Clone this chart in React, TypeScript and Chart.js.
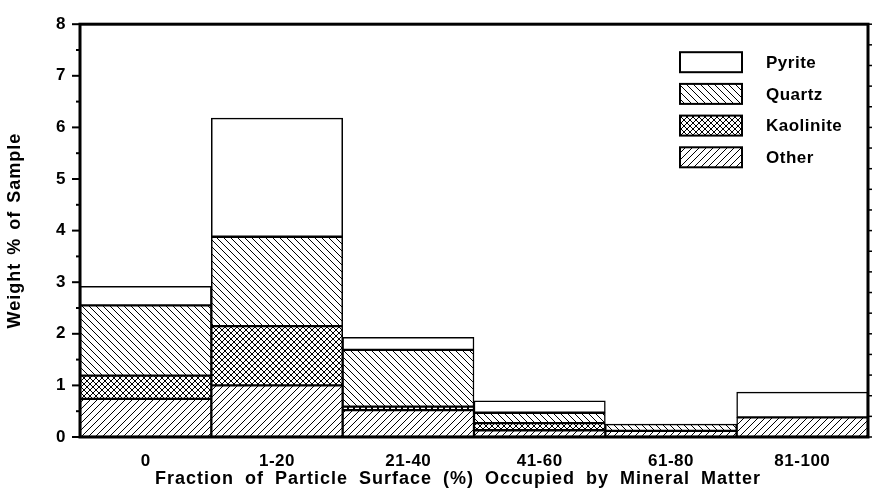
import { useEffect, useRef } from "react";
import { Chart, registerables } from "chart.js";

Chart.register(...registerables);

// Surface-coverage classes (% of particle surface occupied by mineral matter)
const categories = ["0", "1-20", "21-40", "41-60", "61-80", "81-100"];

// Weight % of sample per mineral, stacked bottom to top
const other = [0.74, 1.0, 0.52, 0.13, 0.12, 0.38];
const kaolinite = [0.45, 1.15, 0.07, 0.14, 0, 0];
const quartz = [1.36, 1.73, 1.1, 0.2, 0.13, 0];
const pyrite = [0.37, 2.3, 0.24, 0.23, 0, 0.49];

const yMin = 0;
const yMax = 8;
const yStep = 1;
const yMinorStep = 0.5;
const rightTickStep = 0.4;

const FONT = '"Liberation Sans", Arial, Helvetica, sans-serif';

type Kind = "none" | "fwd" | "back" | "cross";

function hatch(kind: Kind, p: number): CanvasPattern | string {
  if (kind === "none") return "#ffffff";
  const c = document.createElement("canvas");
  c.width = p;
  c.height = p;
  const g = c.getContext("2d")!;
  g.fillStyle = "#ffffff";
  g.fillRect(0, 0, p, p);
  g.strokeStyle = "#000000";
  g.lineWidth = 1;
  g.beginPath();
  for (const k of [-1, 0, 1]) {
    if (kind === "fwd" || kind === "cross") {
      g.moveTo(k * p - 1, p + 1);
      g.lineTo(k * p + p + 1, -1);
    }
    if (kind === "back" || kind === "cross") {
      g.moveTo(k * p - 1, -1);
      g.lineTo(k * p + p + 1, p + 1);
    }
  }
  g.stroke();
  return g.createPattern(c, "repeat")!;
}

const decor = {
  id: "decor",
  beforeDraw(chart: any) {
    chart.ctx.letterSpacing = "0.5px";
  },
  afterDraw(chart: any) {
    const { ctx, chartArea: a, scales } = chart;
    const y = scales.y;
    ctx.save();
    ctx.strokeStyle = "#000";
    ctx.fillStyle = "#000";

    // plot frame
    ctx.lineWidth = 3;
    ctx.strokeRect(a.left, a.top, a.right - a.left, a.bottom - a.top);

    const seg = (x1: number, y1: number, x2: number, y2: number) => {
      ctx.beginPath();
      ctx.moveTo(x1, y1);
      ctx.lineTo(x2, y2);
      ctx.stroke();
    };

    // left axis: major + minor ticks, outward
    ctx.lineWidth = 2;
    for (let v = yMin; v <= yMax + 1e-9; v += yMinorStep) {
      const py = y.getPixelForValue(v);
      const major = Math.abs(v / yStep - Math.round(v / yStep)) < 1e-6;
      seg(a.left - (major ? 8 : 4), py, a.left, py);
    }
    // right axis ticks
    ctx.lineWidth = 1.5;
    for (let v = yMin; v <= yMax + 1e-9; v += rightTickStep) {
      const py = y.getPixelForValue(v);
      seg(a.right, py, a.right + 4, py);
    }

    // legend (top item = top of stack)
    const ds = [...chart.data.datasets].reverse();
    const lx = a.right - 188;
    const ly = a.top + 28;
    ctx.font = `bold 17px ${FONT}`;
    ctx.letterSpacing = "0.5px";
    ctx.textBaseline = "middle";
    ctx.textAlign = "left";
    ds.forEach((d: any, i: number) => {
      const top = ly + i * 31.7;
      ctx.fillStyle = d.backgroundColor;
      ctx.fillRect(lx, top, 62, 20);
      ctx.lineWidth = 2;
      ctx.strokeRect(lx, top, 62, 20);
      ctx.fillStyle = "#000";
      ctx.fillText(d.label, lx + 86, top + 11);
    });

    // axis titles
    ctx.font = `bold 18px ${FONT}`;
    ctx.letterSpacing = "1px";
    (ctx as any).wordSpacing = "5px";
    ctx.textAlign = "center";
    ctx.textBaseline = "middle";
    ctx.fillText(
      "Fraction of Particle Surface (%) Occupied by Mineral Matter",
      (a.left + a.right) / 2 - 16,
      479
    );
    (ctx as any).wordSpacing = "2px";
    ctx.save();
    ctx.translate(15, (a.top + a.bottom) / 2);
    ctx.rotate(-Math.PI / 2);
    ctx.fillText("Weight % of Sample", 0, 0);
    ctx.restore();

    ctx.restore();
  },
};

export default function App() {
  const ref = useRef<HTMLCanvasElement>(null);

  useEffect(() => {
    document.body.style.margin = "0";
    const mk = (label: string, data: number[], kind: Kind, p: number) => ({
      label,
      data,
      backgroundColor: hatch(kind, p),
      borderColor: "#000",
      borderWidth: 1.5,
      borderSkipped: false as const,
      barPercentage: 1,
      categoryPercentage: 1,
    });

    const chart = new Chart(ref.current!, {
      type: "bar",
      data: {
        labels: categories,
        datasets: [
          mk("Other", other, "fwd", 7),
          mk("Kaolinite", kaolinite, "cross", 6),
          mk("Quartz", quartz, "back", 7),
          mk("Pyrite", pyrite, "none", 7),
        ] as any,
      },
      options: {
        animation: false,
        responsive: false,
        layout: { padding: { top: 13, right: 8, left: 0, bottom: 0 } },
        plugins: {
          legend: { display: false },
          tooltip: { enabled: false },
        },
        scales: {
          x: {
            stacked: true,
            grid: { display: false, drawTicks: false },
            border: { display: false },
            ticks: {
              color: "#000",
              font: { family: FONT, size: 17, weight: "bold" },
              padding: 14,
            },
            afterFit: (s: any) => {
              s.height = 54;
            },
          },
          y: {
            stacked: true,
            min: yMin,
            max: yMax,
            grid: { display: false, drawTicks: false },
            border: { display: false },
            ticks: {
              stepSize: yStep,
              color: "#000",
              font: { family: FONT, size: 17, weight: "bold" },
              padding: 14,
            },
            afterFit: (s: any) => {
              s.width = 80;
            },
          },
        },
      },
      plugins: [decor],
    });
    return () => chart.destroy();
  }, []);

  return (
    <div style={{ width: 876, height: 491, background: "#fff" }}>
      <canvas ref={ref} width={876} height={491} style={{ display: "block" }} />
    </div>
  );
}
